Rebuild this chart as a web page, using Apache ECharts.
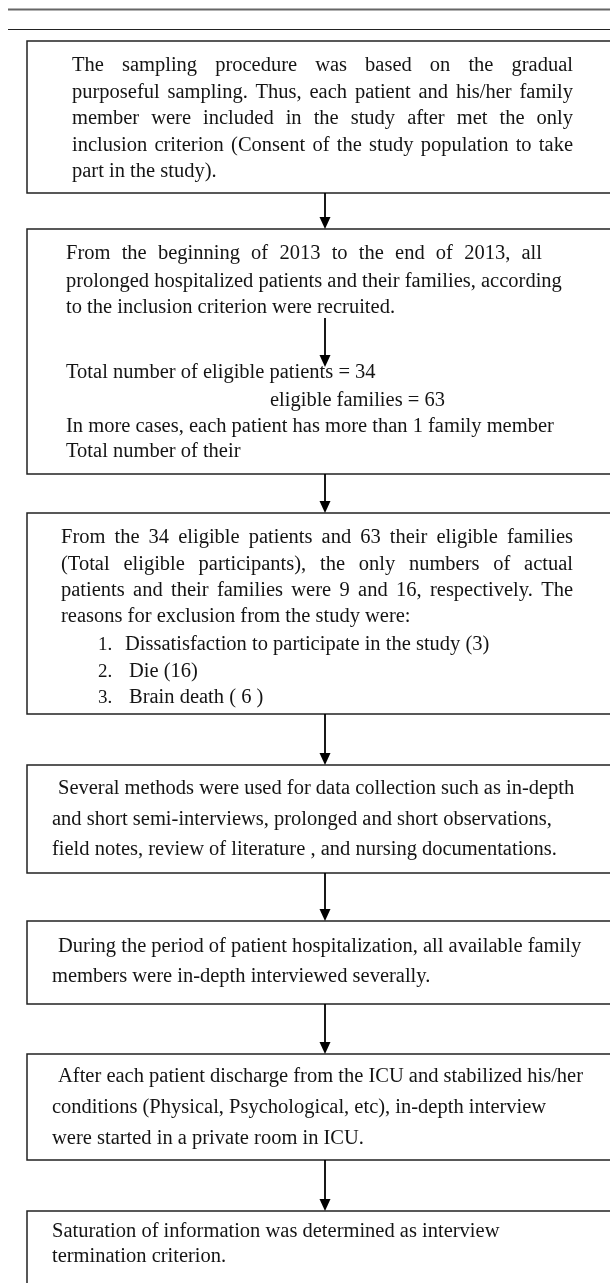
<!DOCTYPE html>
<html>
<head>
<meta charset="utf-8">
<script src="https://cdn.jsdelivr.net/npm/echarts@6/dist/echarts.min.js"></script>
<style>
  html, body { margin: 0; padding: 0; background: #fff; }
  #main { width: 610px; height: 1283px; }
</style>
</head>
<body>
<div id="main"></div>
<script>
// box texts
const box1Lines = [
  'The sampling procedure was based on the gradual',
  'purposeful sampling. Thus, each patient and his/her family',
  'member were included in the study after met the only',
  'inclusion criterion (Consent of the study population to take',
  'part in the study).'
];
const box2Lines = [
  'From the beginning of 2013 to the end of 2013, all',
  'prolonged hospitalized patients and their families, according',
  'to the inclusion criterion were recruited.'
];
const box2Counts = [
  'Total number of eligible patients = 34',
  'eligible families = 63',
  'In more cases, each patient has more than 1 family member',
  'Total number of their'
];
const box3Lines = [
  'From the 34 eligible patients and 63 their eligible families',
  '(Total eligible participants), the only numbers of actual',
  'patients and their families were  9 and 16, respectively. The',
  'reasons for exclusion from the study were:'
];
const exclusionNums = ['1.', '2.', '3.'];
const exclusionReasons = [
  'Dissatisfaction to participate in the study (3)',
  'Die (16)',
  'Brain death ( 6 )'
];
const box4Lines = [
  'Several methods were used for data collection such as in-depth',
  'and short semi-interviews, prolonged and short observations,',
  'field notes, review of literature , and nursing documentations.'
];
const box5Lines = [
  'During the period of patient hospitalization, all available family',
  'members were in-depth interviewed severally.'
];
const box6Lines = [
  'After each patient discharge from the ICU and stabilized his/her',
  'conditions (Physical, Psychological, etc), in-depth interview',
  'were started in a private room in ICU.'
];
const box7Lines = [
  'Saturation of information was determined as interview',
  'termination criterion.'
];

// layout
const boxTop = [41, 229, 513, 765, 921, 1054, 1211];
const boxBottom = [193, 474, 714, 873, 1004, 1160, 1320];
const BOX_LEFT = 27;
const BOX_RIGHT = 720;
const ARROW_X = 325;
const FONT = '"Liberation Serif", serif';
const SIZE = 20.5;
const INK = '#141414';

const chart = echarts.init(document.getElementById('main'), null, { renderer: 'canvas' });
const measureCtx = document.createElement('canvas').getContext('2d');
const measure = (str, size) => {
  measureCtx.font = size + 'px ' + FONT;
  return measureCtx.measureText(str).width;
};

const elements = [];

const text = (str, x, y, size) => {
  elements.push({
    type: 'text',
    x: x,
    y: y,
    style: {
      text: str,
      fill: INK,
      font: size + 'px ' + FONT,
      textVerticalAlign: 'middle',
      textAlign: 'left'
    }
  });
};

// spread words so the line reaches right edge
const justified = (str, left, right, y, size) => {
  const words = str.split(/\s+/);
  const widths = words.map((w) => measure(w, size));
  const total = widths.reduce((a, b) => a + b, 0);
  const gap = (right - left - total) / (words.length - 1);
  let x = left;
  words.forEach((w, i) => {
    text(w, x, y, size);
    x += widths[i] + gap;
  });
};

const block = (lines, left, ys, size, justifyTo, justifyCount) => {
  lines.forEach((line, i) => {
    const lx = Array.isArray(left) ? left[i] : left;
    if (justifyTo && i < justifyCount) {
      justified(line, lx, justifyTo, ys[i], size);
    } else {
      text(line, lx, ys[i], size);
    }
  });
};

const arrow = (x, y1, y2) => {
  elements.push({
    type: 'line',
    shape: { x1: x, y1: y1, x2: x, y2: y2 - 10 },
    style: { stroke: '#000', lineWidth: 1.8 }
  });
  elements.push({
    type: 'polygon',
    shape: { points: [[x - 5.5, y2 - 12], [x + 5.5, y2 - 12], [x, y2]] },
    style: { fill: '#000' }
  });
};

// header rules
elements.push({
  type: 'line',
  shape: { x1: 8, y1: 9.5, x2: 610, y2: 9.5 },
  style: { stroke: '#666', lineWidth: 1.8 }
});
elements.push({
  type: 'line',
  shape: { x1: 8, y1: 29.5, x2: 610, y2: 29.5 },
  style: { stroke: '#222', lineWidth: 1.1 }
});

// boxes
boxTop.forEach((top, i) => {
  elements.push({
    type: 'rect',
    shape: { x: BOX_LEFT, y: top, width: BOX_RIGHT - BOX_LEFT, height: boxBottom[i] - top },
    style: { fill: 'none', stroke: '#222', lineWidth: 1.5 }
  });
});

// arrows between boxes
for (let i = 0; i < boxTop.length - 1; i++) {
  arrow(ARROW_X, boxBottom[i], boxTop[i + 1]);
}
// arrow inside box 2
arrow(ARROW_X, 318, 367);

// texts
block(box1Lines, 72, [66, 93, 119, 146, 172], SIZE, 573, 4);
block(box2Lines, 66, [254, 282, 308], SIZE, 542, 1);
block(box2Counts, [66, 270, 66, 66], [373, 401, 427, 452], SIZE);
block(box3Lines, 61, [538, 565, 591, 617], SIZE, 573, 3);
block(exclusionNums, [98, 98, 98], [645, 672, 698], 19);
block(exclusionReasons, [125, 129, 129], [645, 672, 698], SIZE);
block(box4Lines, [58, 52, 52], [789, 820, 850], SIZE);
block(box5Lines, [58, 52], [947, 977], SIZE);
block(box6Lines, [58, 52, 52], [1077, 1108, 1139], SIZE);
block(box7Lines, 52, [1232, 1257], SIZE);

chart.setOption({
  backgroundColor: '#fff',
  animation: false,
  graphic: { elements: elements }
});
</script>
</body>
</html>
